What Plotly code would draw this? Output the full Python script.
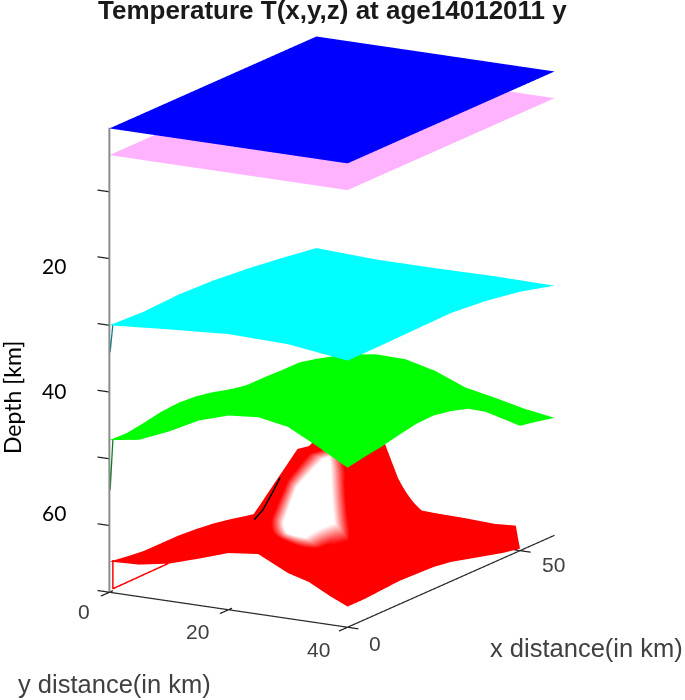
import math
import plotly.graph_objects as go

# depth of the isotherm surfaces, km
x_coarse = [0, 10, 20, 30, 40, 50, 60]
y_coarse = [0, 10, 20, 30, 40]
x_green = [0, 5, 10, 15, 20, 25, 30, 35, 40, 45, 50, 55, 60]
y_green = [0, 5, 10, 15, 20, 25, 30, 35, 40]
y_red = [0, 5, 10, 15, 20, 25, 30, 33.5, 37, 40]

x_plane = [0, 60]
y_plane = [0, 40]
blue_depth = [[0.5, 0.5], [0.5, 0.5]]
pink_depth = [[4.5, 4.5], [4.5, 4.5]]

cyan_depth = [
    [30.0, 30.25, 30.0, 30.2, 30.7, 31.4, 32.2],
    [29.3, 29.2, 29.1, 29.3, 29.9, 31.0, 32.6],
    [28.7, 28.7, 28.7, 29.0, 29.8, 31.0, 32.6],
    [28.9, 29.0, 29.0, 29.2, 29.9, 31.1, 32.5],
    [30.06, 30.0, 29.9, 29.8, 30.3, 31.2, 32.6],
]

green_depth = [
    [47.2, 47.3, 46.9, 46.4, 46.2, 46.4, 46.9, 47.7, 48.1, 48.1, 48.2, 48.2, 48.8],
    [46.5, 46.2, 45.8, 45.4, 45.2, 45.2, 45.6, 45.8, 46.2, 46.5, 46.9, 47.2, 47.5],
    [44.6, 44.0, 43.6, 43.3, 43.2, 43.4, 43.6, 44.0, 44.4, 44.9, 45.4, 46.0, 46.8],
    [42.3, 41.9, 41.6, 41.4, 41.2, 41.0, 41.0, 41.4, 42.0, 43.0, 44.2, 45.6, 46.9],
    [40.9, 40.7, 40.4, 40.0, 39.6, 39.4, 39.5, 40.2, 41.3, 42.8, 44.4, 46.2, 48.0],
    [40.5, 40.4, 40.2, 40.0, 39.8, 39.6, 39.8, 40.5, 41.8, 43.6, 45.5, 47.8, 49.8],
    [41.3, 41.4, 41.5, 41.4, 41.2, 41.2, 41.6, 42.4, 43.6, 45.2, 47.2, 49.2, 50.7],
    [43.6, 43.4, 43.3, 43.1, 43.0, 43.0, 43.4, 44.0, 45.0, 46.4, 48.4, 50.0, 51.7],
    [46.1, 45.6, 45.2, 44.6, 44.1, 44.0, 44.5, 45.3, 46.9, 49.1, 51.3, 51.8, 52.4],
]

# the red sheet stops short of the far corner, so its last rows end at smaller x
x_red_full = [0, 5, 10, 15, 20, 25, 30, 35, 40, 45, 50, 55, 60]
x_red = [
    x_red_full, x_red_full, x_red_full, x_red_full, x_red_full, x_red_full, x_red_full, x_red_full,
    [0, 5, 10, 15, 20, 25, 30, 35, 40, 45, 50, 52.3, 54.6],
    [0, 5, 10, 15, 20, 25, 30, 35, 40, 45, 50, 50, 50],
]

red_depth = [
    [65.4, 65.8, 66.1, 66.1, 66.1, 66.3, 66.6, 67.1, 67.7, 68.2, 68.6, 68.9, 69.2],
    [65.2, 65.4, 65.7, 65.8, 65.8, 65.9, 66.3, 66.8, 67.4, 68.0, 68.5, 68.8, 69.1],
    [64.4, 64.5, 64.6, 64.4, 63.5, 63.2, 63.0, 64.5, 66.5, 67.6, 68.3, 68.8, 69.1],
    [63.0, 63.0, 62.5, 60.5, 59.5, 56.0, 54.0, 55.0, 62.0, 66.5, 68.1, 68.8, 69.1],
    [61.5, 61.0, 57.5, 53.2, 50.5, 51.0, 49.0, 50.0, 52.5, 55.0, 67.5, 68.8, 69.3],
    [61.0, 60.5, 59.5, 56.0, 51.5, 49.0, 49.0, 51.0, 60.5, 66.0, 68.0, 69.0, 69.4],
    [63.2, 62.8, 62.0, 60.0, 57.0, 54.0, 53.5, 61.5, 63.5, 66.5, 68.6, 69.2, 69.6],
    [64.07, 64.3, 64.2, 63.5, 62.6, 61.5, 61.0, 63.5, 65.5, 67.6, 68.9, 69.3, 69.4],
    [65.7, 65.8, 65.8, 65.7, 65.5, 65.0, 65.0, 65.8, 67.2, 68.4, 69.2, 69.5, 69.6],
    [66.9, 66.9, 66.7, 66.5, 66.6, 66.7, 67.1, 67.8, 68.5, 69.2, 69.7, 69.7, 69.7],
]

# 1 = the washed out white patch on the hill
red_white = [
    [0, 0, 0, 0, 0, 0, 0, 0, 0, 0, 0, 0, 0],
    [0, 0, 0, 0, 0, 0, 0, 0, 0, 0, 0, 0, 0],
    [0, 0, 0, 0, 0, 0, 0, 0, 0, 0, 0, 0, 0],
    [0, 0, 0, 0, 0, 0, 0, 0, 0, 0, 0, 0, 0],
    [0, 0, 0, 0, 0, 0, 0, 0, 0, 0, 0, 0, 0],
    [0, 0, 0.8, 1, 0.62, 0, 0, 0, 0, 0, 0, 0, 0],
    [0, 0, 0.2, 0.45, 0, 0, 0, 0, 0, 0, 0, 0, 0],
    [0, 0, 0, 0, 0, 0, 0, 0, 0, 0, 0, 0, 0],
    [0, 0, 0, 0, 0, 0, 0, 0, 0, 0, 0, 0, 0],
    [0, 0, 0, 0, 0, 0, 0, 0, 0, 0, 0, 0, 0],
]

z_ticks = [0, 10, 20, 30, 40, 50, 60, 70]
z_tick_labels = ["20", "40", "60"]
y_ticks = [0, 20, 40]
x_ticks = [0, 50]

title = "Temperature T(x,y,z) at age14012011 y"

FLAT = dict(ambient=1, diffuse=0, specular=0, fresnel=0, roughness=1)


def sheet(x, y, z, colour):
    return go.Surface(x=x, y=y, z=z, surfacecolor=[[0 for v in row] for row in z],
                      colorscale=[[0, colour], [1, colour]], cmin=0, cmax=1,
                      showscale=False, lighting=FLAT, hoverinfo="skip")


def segment(x, y, z, colour, width):
    return go.Scatter3d(x=x, y=y, z=z, mode="lines", line=dict(color=colour, width=width),
                        showlegend=False, hoverinfo="skip")


def note(px, py, text, font, angle=0):
    return dict(x=px / 685, y=1 - py / 700, xref="paper", yref="paper", text=text, showarrow=False,
                xanchor="center", yanchor="middle", textangle=angle, font=font)


fig = go.Figure()
fig.add_trace(sheet(x_plane, y_plane, blue_depth, "#0000ff"))
fig.add_trace(sheet(x_plane, y_plane, pink_depth, "#ffb3ff"))
fig.add_trace(sheet(x_coarse, y_coarse, cyan_depth, "#00ffff"))
fig.add_trace(sheet(x_green, y_green, green_depth, "#00ff00"))
fig.add_trace(go.Surface(x=x_red, y=y_red, z=red_depth, surfacecolor=red_white,
                         colorscale=[[0, "#ff0000"], [0.25, "#ff0000"], [0.55, "#ffffff"], [1, "#ffffff"]],
                         cmin=0, cmax=1, showscale=False, lighting=FLAT, hoverinfo="skip"))

# slivers of the surfaces running down the box walls
fig.add_trace(segment([1, 0.2], [0, 0], [30, 34.1], "#0a7f86", 2.5))
fig.add_trace(segment([1, 0.2], [0, 0], [47.3, 54.8], "#0a7a20", 2.5))
fig.add_trace(segment([1, 1, 17], [0, 0, 0], [65.4, 69.7, 69.6], "#ff0000", 3))
fig.add_trace(segment([1.5, 4, 7, 9], [23.45, 23.45, 23.45, 23.45], [56.4, 55.5, 53.4, 51.8], "#000000", 3))

# axis lines and ticks
fig.add_trace(segment([0, 0], [0, 0], [0.4, 70], "#8c8c8c", 4))
fig.add_trace(segment([0, 0, 60], [0, 40, 40], [70, 70, 70], "#2b2b2b", 2.5))
for t in z_ticks[1:]:
    fig.add_trace(segment([0, 0], [-2, 0], [t, t], "#222222", 2.5))
for t in y_ticks:
    fig.add_trace(segment([-2.5, 1], [t, t], [70, 70], "#222222", 2.5))
for t in x_ticks:
    fig.add_trace(segment([t, t], [39, 41.8], [70, 70], "#222222", 2.5))

tick_font = dict(family="Liberation Sans", size=21, color="#404040")
scene_notes = []
for text, shift in zip(z_tick_labels, [-7, 1, 13]):
    scene_notes.append(dict(x=0, y=0, z=int(text), text=text, showarrow=False, xshift=-55, yshift=shift,
                            font=dict(family="Lato", size=21, color="#000000")))
for t, dx, dy in zip(y_ticks, [-25, -31, -29], [-20, -22, -23]):
    scene_notes.append(dict(x=0, y=t, z=70, text=str(t), showarrow=False, xshift=dx, yshift=dy, font=tick_font))
for t, dx, dy in zip(x_ticks, [27, 33], [-17, -14]):
    scene_notes.append(dict(x=t, y=40, z=70, text=str(t), showarrow=False, xshift=dx, yshift=dy, font=tick_font))

az = math.radians(29.9)
el = math.radians(14.8)
eye_dist = 4

fig.update_layout(
    width=685, height=700,
    margin=dict(l=0, r=0, t=0, b=0),
    paper_bgcolor="white",
    showlegend=False,
    scene=dict(
        domain=dict(x=[0, 663 / 685], y=[29.4 / 700, 1]),
        xaxis=dict(range=[62, -4], visible=False),
        yaxis=dict(range=[-3, 44], visible=False),
        zaxis=dict(range=[72, -1], visible=False),
        aspectmode="manual",
        aspectratio=dict(x=1.361, y=0.962, z=1.502),
        bgcolor="white",
        camera=dict(
            projection=dict(type="orthographic"),
            up=dict(x=0, y=0, z=1),
            center=dict(x=0, y=0, z=0),
            eye=dict(x=eye_dist * math.cos(el) * math.cos(az),
                     y=eye_dist * math.cos(el) * math.sin(az),
                     z=eye_dist * math.sin(el)),
        ),
        annotations=scene_notes,
    ),
    annotations=[
        note(332.5, 10, "<b>" + title + "</b>", dict(family="Liberation Sans", size=26, color="#1a1a1a")),
        note(12, 398, "Depth [km]", dict(family="Lato", size=23, color="#000000"), -90),
        note(586, 648, "x distance(in km)", dict(family="Liberation Sans", size=25.5, color="#404040")),
        note(115, 684, "y distance(in km)", dict(family="Liberation Sans", size=25.5, color="#404040")),
    ],
)

fig.write_html("out.html", config=dict(displayModeBar=False), post_script="document.body.style.margin='0';")
